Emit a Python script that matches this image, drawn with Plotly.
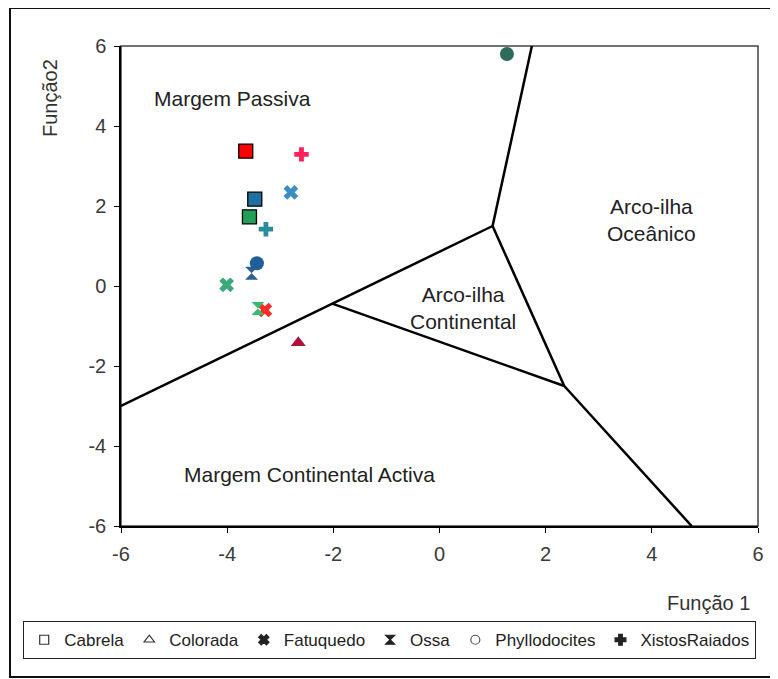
import plotly.graph_objects as go

OFF = 8  # page body margin
W, H = 778 - OFF, 679 - OFF
L, R, T, B = 121 - OFF, 758 - OFF, 46 - OFF, 526 - OFF  # plot area pixels (figure coords)

def px(xp):  # reference-screen pixel -> paper x
    return (xp - OFF - L) / (R - L)

def py(yp):  # reference-screen pixel -> paper y
    return (B - (yp - OFF)) / (B - T)

FONT = "Liberation Sans, Arial, sans-serif"

# ---- data ----
groups = ["Cabrela", "Colorada", "Fatuquedo", "Ossa", "Phyllodocites", "XistosRaiados"]

cabrela_x = [-3.65, -3.48, -3.58]
cabrela_y = [3.37, 2.17, 1.73]
cabrela_c = ["#FF0000", "#1F6FA3", "#22A05A"]

colorada_x = [-2.66]
colorada_y = [-1.42]
colorada_c = ["#B0103A"]

fatuquedo_x = [-2.80, -4.01, -3.29]
fatuquedo_y = [2.34, 0.03, -0.60]
fatuquedo_c = ["#3A8FC0", "#3AAA7A", "#FF2A2A"]

ossa_x = [-3.54, -3.42]
ossa_y = [0.32, -0.56]
ossa_c = ["#2F5F8F", "#2FBF6F"]

phyllo_x = [-3.44, 1.27]
phyllo_y = [0.57, 5.80]
phyllo_c = ["#1F5E99", "#2F6B5A"]

xistos_x = [-2.60, -3.27]
xistos_y = [3.29, 1.42]
xistos_c = ["#FF1F5A", "#2E8B9A"]

# discriminant field boundaries (segments)
bound_x = [-6, 1.0, None, 1.0, 1.74, None, 1.0, 2.35, None, 2.35, 4.75, None, 2.35, -2.02]
bound_y = [-3, 1.5, None, 1.5, 6.0, None, 1.5, -2.5, None, -2.5, -6.0, None, -2.5, -0.44]

field_labels = ["Margem Passiva", "Arco-ilha<br>Oceânico", "Arco-ilha<br>Continental", "Margem Continental Activa"]
field_x = [-3.9, 4.0, 0.45, -2.45]
field_y = [4.7, 1.65, -0.54, -4.7]

xticks = [-6, -4, -2, 0, 2, 4, 6]
yticks = [-6, -4, -2, 0, 2, 4, 6]

fig = go.Figure()

fig.add_trace(go.Scatter(x=bound_x, y=bound_y, mode="lines",
                         line=dict(color="black", width=2.5),
                         showlegend=False, hoverinfo="skip"))

series = [
    (cabrela_x, cabrela_y, cabrela_c, "square", 14, dict(color="black", width=1.3)),
    (colorada_x, colorada_y, colorada_c, "triangle-up", 13, dict(width=0)),
    (fatuquedo_x, fatuquedo_y, fatuquedo_c, "x", 13, dict(width=0)),
    (ossa_x, ossa_y, ossa_c, "hourglass", 13, dict(width=0)),
    (phyllo_x, phyllo_y, phyllo_c, "circle", 14, dict(width=0)),
    (xistos_x, xistos_y, xistos_c, "cross", 12, dict(width=0)),
]
for xs, ys, cs, sym, sz, ln in series:
    fig.add_trace(go.Scatter(x=xs, y=ys, mode="markers",
                             marker=dict(symbol=sym, size=sz, color=cs, line=ln),
                             showlegend=False, cliponaxis=False))

legend_syms = ["square-open", "triangle-up-open", "x", "hourglass", "circle-open", "cross"]
legend_cols = ["#333333", "#333333", "#222222", "#222222", "#555555", "#222222"]
for name, sym, col in zip(groups, legend_syms, legend_cols):
    fig.add_trace(go.Scatter(x=[None], y=[None], mode="markers", name=name,
                             marker=dict(symbol=sym, size=9, color=col,
                                         line=dict(color=col, width=1.2))))

for txt, fx, fy in zip(field_labels, field_x, field_y):
    fig.add_annotation(x=fx, y=fy, text=txt, showarrow=False,
                       font=dict(size=21, color="#222222", family=FONT))

# axis titles
fig.add_annotation(xref="paper", yref="paper", x=px(50), y=py(98), text="Função2",
                   textangle=-90, showarrow=False, xanchor="center", yanchor="middle",
                   font=dict(size=20, color="#333333", family=FONT))
fig.add_annotation(xref="paper", yref="paper", x=px(708), y=py(603), text="Função 1",
                   showarrow=False, xanchor="center", yanchor="middle",
                   font=dict(size=20, color="#333333", family=FONT))

# plot box (top/right) and outer frame
fig.add_shape(type="rect", xref="paper", yref="paper", x0=0, y0=0, x1=1, y1=1,
              line=dict(color="#444444", width=1.5), layer="below")
fig.add_shape(type="rect", xref="paper", yref="paper", x0=px(10), y0=py(677),
              x1=px(790), y1=py(8), line=dict(color="#111111", width=2))

axis_common = dict(showgrid=False, zeroline=False, showline=True, linecolor="black",
                   linewidth=1.5, ticks="outside", ticklen=5, tickcolor="black",
                   ticklabelstandoff=4,
                   tickfont=dict(size=20, color="#3a3a3a", family=FONT),
                   fixedrange=True)

fig.update_xaxes(range=[-6, 6], tickvals=xticks, ticktext=[str(v) for v in xticks], **axis_common)
fig.update_yaxes(range=[-6, 6], tickvals=yticks, ticktext=[str(v) for v in yticks], **axis_common)

fig.update_layout(
    width=W, height=H,
    margin=dict(l=L, r=W - R, t=T, b=H - B),
    paper_bgcolor="white", plot_bgcolor="white",
    font=dict(family=FONT, size=17, color="#222222"),
    legend=dict(orientation="h", x=px(23), y=py(621), xanchor="left", yanchor="top",
                bordercolor="#222222", borderwidth=1.2, bgcolor="white",
                font=dict(size=17, color="#222222", family=FONT), itemwidth=30,
                tracegroupgap=0),
    showlegend=True,
)

fig.write_html("out.html")
